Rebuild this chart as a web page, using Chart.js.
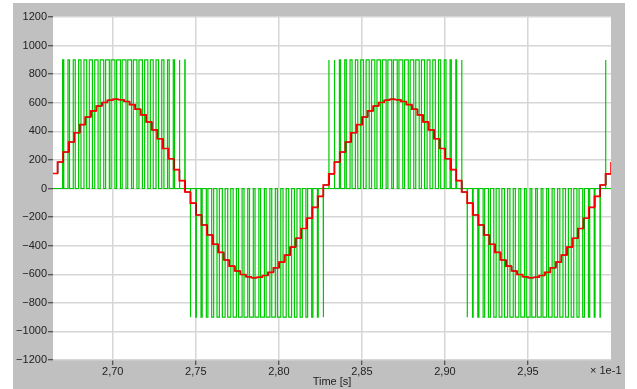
<!DOCTYPE html>
<html>
<head>
<meta charset="utf-8">
<script src="https://cdn.jsdelivr.net/npm/chart.js@4.4.1/dist/chart.umd.min.js"></script>
<style>
  html, body { margin: 0; padding: 0; background: #fff; }
  canvas { display: block; }
</style>
</head>
<body>
<canvas id="myChart" width="637" height="389"></canvas>
<script>
// Time axis in units of 1e-1 s
const xMin = 2.664;
const xMax = 3.0;
const xTicks = [2.70, 2.75, 2.80, 2.85, 2.90, 2.95];
const yTicks = [-1200, -1000, -800, -600, -400, -200, 0, 200, 400, 600, 800, 1000, 1200];

// sampled reference (red staircase), one value per sample period
const sampleStart = 2.66667;
const samplePeriod = 0.0033333;
const redFirst = 105;
const redSteps = [
  185, 255, 325, 390, 447, 500, 543, 577, 602, 618, 625, 621, 609, 587, 555, 515, 466, 410, 348, 280, 208, 132, 55, -25, -102,
  -185, -255, -325, -390, -447, -500, -543, -577, -602, -618, -625, -621, -609, -587, -555, -515, -466, -410, -348, -280, -208, -132, -55, 25, 102,
  185, 255, 325, 390, 447, 500, 543, 577, 602, 618, 625, 621, 609, 587, 555, 515, 466, 410, 348, 280, 208, 132, 55, -25, -102,
  -185, -255, -325, -390, -447, -500, -543, -577, -602, -618, -625, -621, -609, -587, -555, -515, -466, -410, -348, -280, -208, -132, -55, 25, 102,
  185
];

// PWM output: signed duty of each carrier period (+ -> +900 pulse, - -> -900 pulse)
const pwmLevel = 900;
const pwmDelay = 0.0018;
const pwmDuty = [
  .21, .28, .36, .43, .50, .56, .60, .64, .67, .69, .69, .69, .68, .65, .62, .57, .52, .46, .39, .31, .23, .15, .06, -.03, -.11,
  -.21, -.28, -.36, -.43, -.50, -.56, -.60, -.64, -.67, -.69, -.69, -.69, -.68, -.65, -.62, -.57, -.52, -.46, -.39, -.31, -.23, -.15, -.06, .03, .11,
  .21, .28, .36, .43, .50, .56, .60, .64, .67, .69, .69, .69, .68, .65, .62, .57, .52, .46, .39, .31, .23, .15, .06, -.03, -.11,
  -.21, -.28, -.36, -.43, -.50, -.56, -.60, -.64, -.67, -.69, -.69, -.69, -.68, -.65, -.62, -.57, -.52, -.46, -.39, -.31, -.23, -.15, -.06, .03
];

// build datasets
const redData = [{ x: xMin, y: redFirst }];
redSteps.forEach(function(v, k) {
  redData.push({ x: sampleStart + k * samplePeriod, y: v });
});
const blackData = redData.map(function(p, i) {
  return { x: i === 0 ? p.x : p.x + 0.0003, y: p.y };
});

const greenData = [{ x: xMin, y: 0 }];
pwmDuty.forEach(function(d, k) {
  const c = sampleStart + k * samplePeriod + samplePeriod / 2 + pwmDelay;
  const h = Math.abs(d) * samplePeriod / 2;
  const lv = d > 0 ? pwmLevel : -pwmLevel;
  greenData.push({ x: c - h, y: 0 }, { x: c - h, y: lv }, { x: c + h, y: lv }, { x: c + h, y: 0 });
});
greenData.push({ x: xMax, y: 0 });

const frame = {
  id: 'frame',
  beforeDraw(chart) {
    const c = chart.ctx, a = chart.chartArea;
    c.save();
    c.fillStyle = '#ffffff';
    c.fillRect(0, 0, chart.width, chart.height);
    c.fillStyle = '#c0c0c0';
    c.fillRect(13, 3, 612, 386);
    c.fillStyle = '#ffffff';
    c.fillRect(a.left, a.top, a.right - a.left, a.bottom - a.top);
    c.restore();
  },
  afterDraw(chart) {
    const c = chart.ctx, a = chart.chartArea;
    c.save();
    c.fillStyle = '#222';
    c.font = '11px "Liberation Sans", Arial, sans-serif';
    c.textBaseline = 'middle';
    c.textAlign = 'center';
    c.fillText('Time [s]', (a.left + a.right) / 2, 382);
    c.textAlign = 'left';
    c.fillText('\u00d7 1e-1', 590, 371);
    c.restore();
  }
};

const ctx = document.getElementById('myChart').getContext('2d');
const myChart = new Chart(ctx, {
  type: 'line',
  data: {
    datasets: [
      { label: 'PWM', data: greenData, order: 3, borderColor: 'rgb(0,200,0)', borderWidth: 1.2, pointRadius: 0, tension: 0 },
      { label: 'ref', data: blackData, order: 2, borderColor: '#000', borderWidth: 1, pointRadius: 0, stepped: true },
      { label: 'sampled', data: redData, order: 1, borderColor: '#ff0000', borderWidth: 1.6, pointRadius: 0, stepped: true }
    ]
  },
  plugins: [frame],
  options: {
    responsive: false,
    devicePixelRatio: 1,
    animation: false,
    layout: { padding: { left: 13, top: 17, right: 26, bottom: 0 } },
    plugins: { legend: { display: false }, tooltip: { enabled: false } },
    scales: {
      x: {
        type: 'linear',
        min: xMin,
        max: xMax,
        afterBuildTicks: function(s) { s.ticks = xTicks.map(function(v) { return { value: v }; }); },
        afterFit: function(s) { s.height = 29; },
        border: { display: false },
        grid: { color: '#d6d6d6', lineWidth: 1.5, tickColor: '#333', tickLength: 5, tickWidth: 1 },
        ticks: {
          color: '#222',
          padding: 0,
          maxRotation: 0,
          font: { family: '"Liberation Sans", Arial, sans-serif', size: 11 },
          callback: function(v) { return v.toFixed(2).replace('.', ','); }
        }
      },
      y: {
        min: -1200,
        max: 1200,
        afterBuildTicks: function(s) { s.ticks = yTicks.map(function(v) { return { value: v }; }); },
        afterFit: function(s) { s.width = 40; },
        border: { display: false },
        grid: { color: '#d6d6d6', lineWidth: 1.5, tickColor: '#333', tickLength: 5, tickWidth: 1 },
        ticks: {
          color: '#222',
          padding: 1,
          font: { family: '"Liberation Sans", Arial, sans-serif', size: 11 },
          callback: function(v) { return String(v).replace('-', '\u2212'); }
        }
      }
    }
  }
});
</script>
</body>
</html>
